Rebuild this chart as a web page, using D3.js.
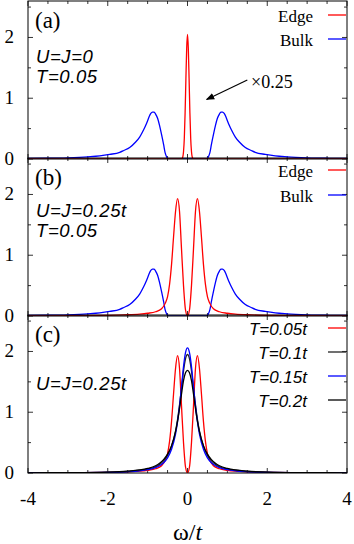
<!DOCTYPE html>
<html>
<head>
<meta charset="utf-8">
<script src="https://cdn.jsdelivr.net/npm/d3@7"></script>
<style>
  body { margin: 0; background: #fff; }
  svg { display: block; }
  .tick-label { font-family: "Liberation Serif", "DejaVu Serif", serif; font-size: 19px; }
  .panel-label { font-family: "Liberation Serif", "DejaVu Serif", serif; font-size: 23px; }
  .note { font-family: "Liberation Sans", Arial, sans-serif; font-style: italic; font-size: 18.5px; letter-spacing: 0.6px; }
  .leg-serif { font-family: "Liberation Serif", "DejaVu Serif", serif; font-size: 17px; }
  .leg-sans { font-family: "Liberation Sans", Arial, sans-serif; font-style: italic; font-size: 17px; }
  .line { fill: none; stroke-width: 1.3; }
</style>
</head>
<body>
<div id="chart"></div>
<script>
// ---- data ----
const xTicks = [-4, -2, 0, 2, 4];
const yTicks = [0, 1, 2];

// panel (a): edge
const omegaEdgeA = [-4, -0.15, -0.12, -0.10, -0.08, -0.06, -0.04, -0.02, 0, 0.02, 0.04, 0.06, 0.08, 0.10, 0.12, 0.15, 4];
const edgeA = [0, 0, 0.03, 0.12, 0.34, 0.76, 1.32, 1.83, 2.05, 1.83, 1.32, 0.76, 0.34, 0.12, 0.03, 0, 0];

// panels (a),(b): bulk (x0.25)
const omegaBulk = [-4, -3.5, -3, -2.5, -2.2, -1.95, -1.7, -1.6, -1.45, -1.3, -1.2, -1.1, -1.05, -1.0, -0.96, -0.92, -0.88, -0.84, -0.8, -0.75, -0.7, -0.65, -0.6, -0.56, -0.52, -0.48,
  0,
  0.48, 0.52, 0.56, 0.6, 0.65, 0.7, 0.75, 0.8, 0.84, 0.88, 0.92, 0.96, 1.0, 1.05, 1.1, 1.2, 1.3, 1.45, 1.6, 1.7, 1.95, 2.2, 2.5, 3, 3.5, 4];
const bulk = [0.008, 0.012, 0.02, 0.035, 0.05, 0.075, 0.11, 0.14, 0.19, 0.28, 0.36, 0.48, 0.55, 0.63, 0.7, 0.75, 0.772, 0.77, 0.74, 0.67, 0.55, 0.40, 0.24, 0.10, 0.03, 0,
  0,
  0, 0.03, 0.10, 0.24, 0.40, 0.55, 0.67, 0.74, 0.77, 0.772, 0.75, 0.7, 0.63, 0.55, 0.48, 0.36, 0.28, 0.19, 0.14, 0.11, 0.075, 0.05, 0.035, 0.02, 0.012, 0.008];

// panel (b) edge, also T=0.05t in (c)
const omegaEdgeB = [-4, -3, -2, -1.6, -1.2, -1.0, -0.8, -0.65, -0.55, -0.5, -0.45, -0.4, -0.35, -0.3, -0.25, -0.2, -0.15, -0.1, -0.05,
  0,
  0.05, 0.1, 0.15, 0.2, 0.25, 0.3, 0.35, 0.4, 0.45, 0.5, 0.55, 0.65, 0.8, 1.0, 1.2, 1.6, 2, 3, 4];
const edgeB = [0.002, 0.005, 0.01, 0.018, 0.03, 0.045, 0.07, 0.12, 0.22, 0.32, 0.52, 0.85, 1.3, 1.72, 1.93, 1.72, 1.1, 0.5, 0.1,
  0,
  0.1, 0.5, 1.1, 1.72, 1.93, 1.72, 1.3, 0.85, 0.52, 0.32, 0.22, 0.12, 0.07, 0.045, 0.03, 0.018, 0.01, 0.005, 0.002];

// panel (c): higher temperatures
const omegaC = [-4, -3, -2, -1.5, -1.2, -1.0, -0.8, -0.7, -0.6, -0.5, -0.4, -0.3, -0.25, -0.2, -0.15, -0.1, -0.05,
  0,
  0.05, 0.1, 0.15, 0.2, 0.25, 0.3, 0.4, 0.5, 0.6, 0.7, 0.8, 1.0, 1.2, 1.5, 2, 3, 4];
const t010 = [0.002, 0.005, 0.014, 0.028, 0.045, 0.065, 0.1, 0.14, 0.2, 0.29, 0.44, 0.69, 0.88, 1.12, 1.4, 1.68, 1.88,
  1.95,
  1.88, 1.68, 1.4, 1.12, 0.88, 0.69, 0.44, 0.29, 0.2, 0.14, 0.1, 0.065, 0.045, 0.028, 0.014, 0.005, 0.002];
const t015 = [0.002, 0.004, 0.01, 0.02, 0.035, 0.055, 0.09, 0.12, 0.17, 0.25, 0.39, 0.64, 0.84, 1.1, 1.42, 1.75, 1.98,
  2.06,
  1.98, 1.75, 1.42, 1.1, 0.84, 0.64, 0.39, 0.25, 0.17, 0.12, 0.09, 0.055, 0.035, 0.02, 0.01, 0.004, 0.002];
const t020 = [0.003, 0.006, 0.015, 0.03, 0.05, 0.075, 0.12, 0.16, 0.22, 0.31, 0.45, 0.68, 0.85, 1.06, 1.3, 1.52, 1.65,
  1.69,
  1.65, 1.52, 1.3, 1.06, 0.85, 0.68, 0.45, 0.31, 0.22, 0.16, 0.12, 0.075, 0.05, 0.03, 0.015, 0.006, 0.003];

const width = 354;
const height = 544;
const left = 28, right = 347;
const panelH = 158;
const bottoms = [159, 316, 473];

const svg = d3.select("#chart")
    .append("svg")
    .attr("width", width)
    .attr("height", height);

const x = d3.scaleLinear()
    .domain([-4, 4])
    .range([left, right]);

function zip(xs, ys) {
    return xs.map(function(w, i) { return { w: w, v: ys[i] }; });
}

function drawPanel(idx, series, label, notes, legend, legendClass, legendRight) {
    const bottom = bottoms[idx];
    const top = bottom - panelH;
    const y = d3.scaleLinear().domain([0, 2.6]).range([bottom, top]);
    const g = svg.append("g");

    g.append("clipPath").attr("id", "clip" + idx)
        .append("rect")
        .attr("x", left).attr("y", top)
        .attr("width", right - left).attr("height", panelH);

    // ticks inward on all four sides
    d3.range(-4, 4.01, 0.5).forEach(function(t) {
        const len = (t % 2 === 0) ? 5 : 3;
        g.append("line").attr("x1", x(t)).attr("x2", x(t)).attr("y1", bottom).attr("y2", bottom - len)
            .attr("stroke", "#000").attr("stroke-width", 0.8);
        g.append("line").attr("x1", x(t)).attr("x2", x(t)).attr("y1", top).attr("y2", top + len)
            .attr("stroke", "#000").attr("stroke-width", 0.8);
    });
    d3.range(0, 2.6, 0.5).forEach(function(t) {
        const len = (t % 1 === 0) ? 5 : 3;
        g.append("line").attr("x1", left).attr("x2", left + len).attr("y1", y(t)).attr("y2", y(t))
            .attr("stroke", "#000").attr("stroke-width", 0.8);
        g.append("line").attr("x1", right).attr("x2", right - len).attr("y1", y(t)).attr("y2", y(t))
            .attr("stroke", "#000").attr("stroke-width", 0.8);
    });

    yTicks.forEach(function(t) {
        g.append("text").attr("class", "tick-label")
            .attr("x", 14).attr("y", y(t) + 6)
            .attr("text-anchor", "end")
            .text(t);
    });

    const line = d3.line()
        .x(function(d) { return x(d.w); })
        .y(function(d) { return y(d.v); })
        .curve(d3.curveMonotoneX);

    const lines = g.append("g").attr("clip-path", "url(#clip" + idx + ")");
    series.forEach(function(s) {
        lines.append("path")
            .attr("class", "line")
            .attr("d", line(zip(s.xs, s.ys)))
            .attr("stroke", s.color);
    });

    g.append("rect")
        .attr("x", left).attr("y", top)
        .attr("width", right - left).attr("height", panelH)
        .attr("fill", "none").attr("stroke", "#000").attr("stroke-width", 1);

    g.append("text").attr("class", "panel-label")
        .attr("x", 35).attr("y", top + 27)
        .text(label);

    notes.forEach(function(n) {
        g.append("text").attr("class", "note")
            .attr("x", 36).attr("y", top + n.dy)
            .text(n.text);
    });

    legend.forEach(function(l) {
        const ly = top + l.dy;
        g.append("text").attr("class", legendClass)
            .attr("x", legendRight).attr("y", ly)
            .attr("text-anchor", "end")
            .text(l.text);
        g.append("line")
            .attr("x1", 328).attr("x2", 346)
            .attr("y1", ly - 7).attr("y2", ly - 7)
            .attr("stroke", l.color).attr("stroke-width", 1.3);
    });

    return { g: g, y: y };
}

const pa = drawPanel(0,
    [{ xs: omegaBulk, ys: bulk, color: "#0000ff" },
     { xs: omegaEdgeA, ys: edgeA, color: "#ff0000" }],
    "(a)",
    [{ text: "U=J=0", dy: 62 }, { text: "T=0.05", dy: 82 }],
    [{ text: "Edge", dy: 21, color: "#ff0000" }, { text: "Bulk", dy: 45, color: "#0000ff" }],
    "leg-serif", 313);

// x0.25 annotation with arrow
svg.append("defs").append("marker")
    .attr("id", "arrow")
    .attr("viewBox", "0 0 10 10")
    .attr("refX", 9).attr("refY", 5)
    .attr("markerWidth", 7).attr("markerHeight", 7)
    .attr("orient", "auto")
    .append("path").attr("d", "M0,1 L10,5 L0,9 z").attr("fill", "#000");

pa.g.append("line")
    .attr("x1", x(1.5)).attr("y1", pa.y(1.3))
    .attr("x2", x(0.48)).attr("y2", pa.y(0.98))
    .attr("stroke", "#000").attr("stroke-width", 1.2)
    .attr("marker-end", "url(#arrow)");
pa.g.append("text").attr("class", "leg-serif")
    .style("font-size", "18px")
    .attr("x", 251).attr("y", 88)
    .text("\u00d70.25");

drawPanel(1,
    [{ xs: omegaBulk, ys: bulk, color: "#0000ff" },
     { xs: omegaEdgeB, ys: edgeB, color: "#ff0000" }],
    "(b)",
    [{ text: "U=J=0.25t", dy: 59 }, { text: "T=0.05", dy: 79 }],
    [{ text: "Edge", dy: 19, color: "#ff0000" }, { text: "Bulk", dy: 44, color: "#0000ff" }],
    "leg-serif", 313);

drawPanel(2,
    [{ xs: omegaEdgeB, ys: edgeB, color: "#ff0000" },
     { xs: omegaC, ys: t010, color: "#222222" },
     { xs: omegaC, ys: t015, color: "#0000ff" },
     { xs: omegaC, ys: t020, color: "#000000" }],
    "(c)",
    [{ text: "U=J=0.25t", dy: 75 }],
    [{ text: "T=0.05t", dy: 20, color: "#ff0000" },
     { text: "T=0.1t", dy: 44, color: "#222222" },
     { text: "T=0.15t", dy: 68, color: "#0000ff" },
     { text: "T=0.2t", dy: 92, color: "#000000" }],
    "leg-sans", 307);

// x tick labels on bottom panel
xTicks.forEach(function(t) {
    svg.append("text").attr("class", "tick-label")
        .attr("x", x(t)).attr("y", 505)
        .attr("text-anchor", "middle")
        .text(t);
});

const xl = svg.append("text")
    .attr("x", x(0)).attr("y", 540)
    .attr("text-anchor", "middle")
    .style("font-family", "'Liberation Serif', 'DejaVu Serif', serif")
    .style("font-size", "24px");
xl.append("tspan").text("\u03c9/");
xl.append("tspan").style("font-style", "italic").text("t");
</script>
</body>
</html>
